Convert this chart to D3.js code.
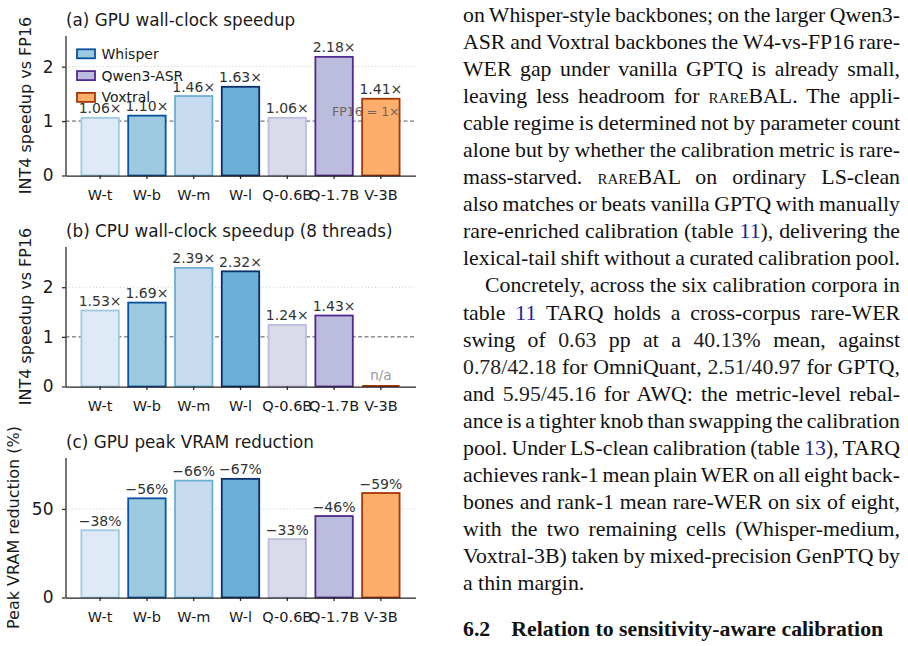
<!DOCTYPE html>
<html>
<head>
<meta charset="utf-8">
<script src="https://cdn.jsdelivr.net/npm/d3@7"></script>
<style>
body { margin:0; background:#fff; width:908px; height:646px; overflow:hidden; position:relative; }
#chart { position:absolute; left:0; top:0; }
#text { position:absolute; left:463px; top:2px; width:437px;
        font-family:"Liberation Serif","Times New Roman",serif; font-size:21.8px; line-height:27.05px; color:#111; }
.ln { white-space:nowrap; }
.ind { padding-left:22px; }
.ref { color:#22229a; }
.sc { font-variant:small-caps; }
.num { color:#222; }
#head { position:absolute; left:463px; top:616px; white-space:nowrap;
        font-family:"Liberation Serif","Times New Roman",serif; font-size:21.8px; line-height:27.05px; font-weight:bold; color:#111; }
</style>
</head>
<body>
<div id="chart"></div>
<div id="text">
<div class="ln j">on Whisper-style backbones; on the larger Qwen3-</div>
<div class="ln j">ASR and Voxtral backbones the W4-vs-FP16 rare-</div>
<div class="ln j">WER gap under vanilla GPTQ is already small,</div>
<div class="ln j">leaving less headroom for <span class="sc">rare</span>BAL. The appli-</div>
<div class="ln j">cable regime is determined not by parameter count</div>
<div class="ln j">alone but by whether the calibration metric is rare-</div>
<div class="ln j">mass-starved. <span class="sc">rare</span>BAL on ordinary LS-clean</div>
<div class="ln j">also matches or beats vanilla GPTQ with manually</div>
<div class="ln j">rare-enriched calibration (table <span class="ref">11</span>), delivering the</div>
<div class="ln j">lexical-tail shift without a curated calibration pool.</div>
<div class="ln j ind">Concretely, across the six calibration corpora in</div>
<div class="ln j">table <span class="ref">11</span> TARQ holds a cross-corpus rare-WER</div>
<div class="ln j">swing of <span class="num">0.63</span> pp at a <span class="num">40.13%</span> mean, against</div>
<div class="ln j"><span class="num">0.78/42.18</span> for OmniQuant, <span class="num">2.51/40.97</span> for GPTQ,</div>
<div class="ln j">and <span class="num">5.95/45.16</span> for AWQ: the metric-level rebal-</div>
<div class="ln j">ance is a tighter knob than swapping the calibration</div>
<div class="ln j">pool. Under LS-clean calibration (table <span class="ref">13</span>), TARQ</div>
<div class="ln j">achieves rank-1 mean plain WER on all eight back-</div>
<div class="ln j">bones and rank-1 mean rare-WER on six of eight,</div>
<div class="ln j">with the two remaining cells (Whisper-medium,</div>
<div class="ln j">Voxtral-3B) taken by mixed-precision GenPTQ by</div>
<div class="ln">a thin margin.</div>
</div>
<div id="head">6.2<span style="display:inline-block;width:21px"></span>Relation to sensitivity-aware calibration</div>

<script>
// chart values
var categories = ["W-t", "W-b", "W-m", "W-l", "Q-0.6B", "Q-1.7B", "V-3B"];
var gpuSpeedup = [1.06, 1.10, 1.46, 1.63, 1.06, 2.18, 1.41];
var cpuSpeedup = [1.53, 1.69, 2.39, 2.32, 1.24, 1.43, null];
var vramReduction = [38, 56, 66, 67, 33, 46, 59];

var barFill = ["#deebf7", "#9ecae1", "#c6dbef", "#6baed6", "#dadaeb", "#bcbddc", "#fdae6b"];
var barEdge = ["#9ecae1", "#08519c", "#6baed6", "#08306b", "#bcbddc", "#54278f", "#a63603"];

var legendLabels = ["Whisper", "Qwen3-ASR", "Voxtral"];
var legendFill = ["#9ecae1", "#bcbddc", "#fdae6b"];
var legendEdge = ["#08519c", "#54278f", "#a63603"];

var speedupTicks = [0, 1, 2];
var vramTicks = [0, 50];

var FONT = "DejaVu Sans, sans-serif";

var svg = d3.select("#chart").append("svg")
    .attr("width", 440)
    .attr("height", 646);

function BarPanel(_param) {
    var param = _param || {};
    var top = param.top,
        height = 140,
        left = 65.5,
        right = 415.5;

    var g = svg.append("g");

    var x = d3.scaleBand()
        .domain(categories)
        .range([left, right])
        .paddingInner(0.2)
        .paddingOuter(0.34);

    var y = d3.scaleLinear()
        .domain([0, d3.max(param.values) * 1.18])
        .range([top + height, top]);

    // dotted grid
    g.selectAll(".grid")
        .data(param.grid)
        .enter().append("line")
        .attr("x1", left).attr("x2", right)
        .attr("y1", function (d) { return y(d); })
        .attr("y2", function (d) { return y(d); })
        .attr("stroke", "#cfcfcf")
        .attr("stroke-width", 1)
        .attr("stroke-dasharray", "1.2,2.2");

    // FP16 reference line
    if (param.refLine != null) {
        g.append("line")
            .attr("x1", left).attr("x2", right)
            .attr("y1", y(param.refLine)).attr("y2", y(param.refLine))
            .attr("stroke", "#555")
            .attr("stroke-width", 1)
            .attr("stroke-dasharray", "4,2.5");
    }

    var rows = param.values.map(function (v, i) {
        return {cat: categories[i], v: v, i: i};
    });

    g.selectAll(".bar")
        .data(rows.filter(function (d) { return d.v != null; }))
        .enter().append("rect")
        .attr("x", function (d) { return x(d.cat); })
        .attr("y", function (d) { return y(d.v); })
        .attr("width", x.bandwidth())
        .attr("height", function (d) { return y(0) - y(d.v); })
        .attr("fill", function (d) { return barFill[d.i]; })
        .attr("stroke", function (d) { return barEdge[d.i]; })
        .attr("stroke-width", 1.8);

    // missing values: flat edge + n/a
    var missing = rows.filter(function (d) { return d.v == null; });
    g.selectAll(".na-line")
        .data(missing)
        .enter().append("line")
        .attr("x1", function (d) { return x(d.cat); })
        .attr("x2", function (d) { return x(d.cat) + x.bandwidth(); })
        .attr("y1", y(0) - 0.5).attr("y2", y(0) - 0.5)
        .attr("stroke", function (d) { return barEdge[d.i]; })
        .attr("stroke-width", 2);
    g.selectAll(".na-text")
        .data(missing)
        .enter().append("text")
        .attr("x", function (d) { return x(d.cat) + x.bandwidth() / 2; })
        .attr("y", y(0) - 7)
        .attr("text-anchor", "middle")
        .style("font-family", FONT).style("font-size", "13.5px")
        .attr("fill", "#999")
        .text("n/a");

    // value labels
    g.selectAll(".val")
        .data(rows.filter(function (d) { return d.v != null; }))
        .enter().append("text")
        .attr("x", function (d) { return x(d.cat) + x.bandwidth() / 2; })
        .attr("y", function (d) { return y(d.v) - 4.5; })
        .attr("text-anchor", "middle")
        .style("font-family", FONT).style("font-size", "14px")
        .attr("fill", "#333")
        .text(function (d) { return param.format(d.v); });

    if (param.refText) {
        g.append("text")
            .attr("x", x(categories[6]) + x.bandwidth())
            .attr("y", y(param.refLine) - 5)
            .attr("text-anchor", "end")
            .style("font-family", FONT).style("font-size", "12.5px")
            .attr("fill", "#666")
            .text(param.refText);
    }

    // axes
    var yAxis = g.append("g")
        .attr("transform", "translate(" + left + ",0)")
        .call(d3.axisLeft(y).tickValues(param.ticks).tickFormat(d3.format("d"))
            .tickSize(3.5).tickSizeOuter(0).tickPadding(8.5));

    var xAxis = g.append("g")
        .attr("transform", "translate(0," + y(0) + ")")
        .call(d3.axisBottom(x).tickSize(3.5).tickSizeOuter(0).tickPadding(10.5));

    [yAxis, xAxis].forEach(function (a) {
        a.selectAll("path, line").attr("stroke", "#222").attr("stroke-width", 1.25);
        a.selectAll("text").attr("fill", "#1a1a1a").style("font-family", FONT);
    });
    yAxis.selectAll("text").style("font-size", "17px");
    xAxis.selectAll("text").style("font-size", "14.5px");

    // title and y label
    g.append("text")
        .attr("x", left + 0.5)
        .attr("y", top - 10)
        .style("font-family", FONT).style("font-size", "16.8px")
        .attr("fill", "#1a1a1a")
        .text(param.title);

    g.append("text")
        .attr("transform", "translate(" + param.labelX + "," + (top + height / 2) + ") rotate(-90)")
        .attr("text-anchor", "middle")
        .style("font-family", FONT).style("font-size", "16px")
        .attr("fill", "#1a1a1a")
        .text(param.ylabel);

    if (param.legend) {
        var lg = g.append("g");
        legendLabels.forEach(function (name, i) {
            var cy = 53.8 + i * 21.8;
            lg.append("rect")
                .attr("x", 77).attr("y", cy - 4.5)
                .attr("width", 18).attr("height", 9)
                .attr("fill", legendFill[i])
                .attr("stroke", legendEdge[i])
                .attr("stroke-width", 1.8);
            lg.append("text")
                .attr("x", 101.5).attr("y", cy + 5)
                .style("font-family", FONT).style("font-size", "14px")
                .attr("fill", "#1a1a1a")
                .text(name);
        });
    }
}

BarPanel({
    top: 35.5, values: gpuSpeedup, ticks: speedupTicks, grid: [2], refLine: 1,
    refText: "FP16 = 1×", title: "(a) GPU wall-clock speedup",
    ylabel: "INT4 speedup vs FP16", labelX: 30.5, legend: true,
    format: function (v) { return v.toFixed(2) + "×"; }
});

BarPanel({
    top: 246.5, values: cpuSpeedup, ticks: speedupTicks, grid: [2], refLine: 1,
    title: "(b) CPU wall-clock speedup (8 threads)",
    ylabel: "INT4 speedup vs FP16", labelX: 30.5,
    format: function (v) { return v.toFixed(2) + "×"; }
});

BarPanel({
    top: 457.5, values: vramReduction, ticks: vramTicks, grid: [50], refLine: null,
    title: "(c) GPU peak VRAM reduction",
    ylabel: "Peak VRAM reduction (%)", labelX: 18.5,
    format: function (v) { return "\u2212" + v + "%"; }
});

// justify each text line to the column width
d3.selectAll("#text .j").each(function () {
    var r = document.createRange();
    r.selectNodeContents(this);
    var w = r.getBoundingClientRect().width;
    var n = (this.textContent.match(/ /g) || []).length;
    var target = 437 - (this.classList.contains("ind") ? 22 : 0);
    if (n > 0) this.style.wordSpacing = ((target - w) / n) + "px";
});
</script>
</body>
</html>
